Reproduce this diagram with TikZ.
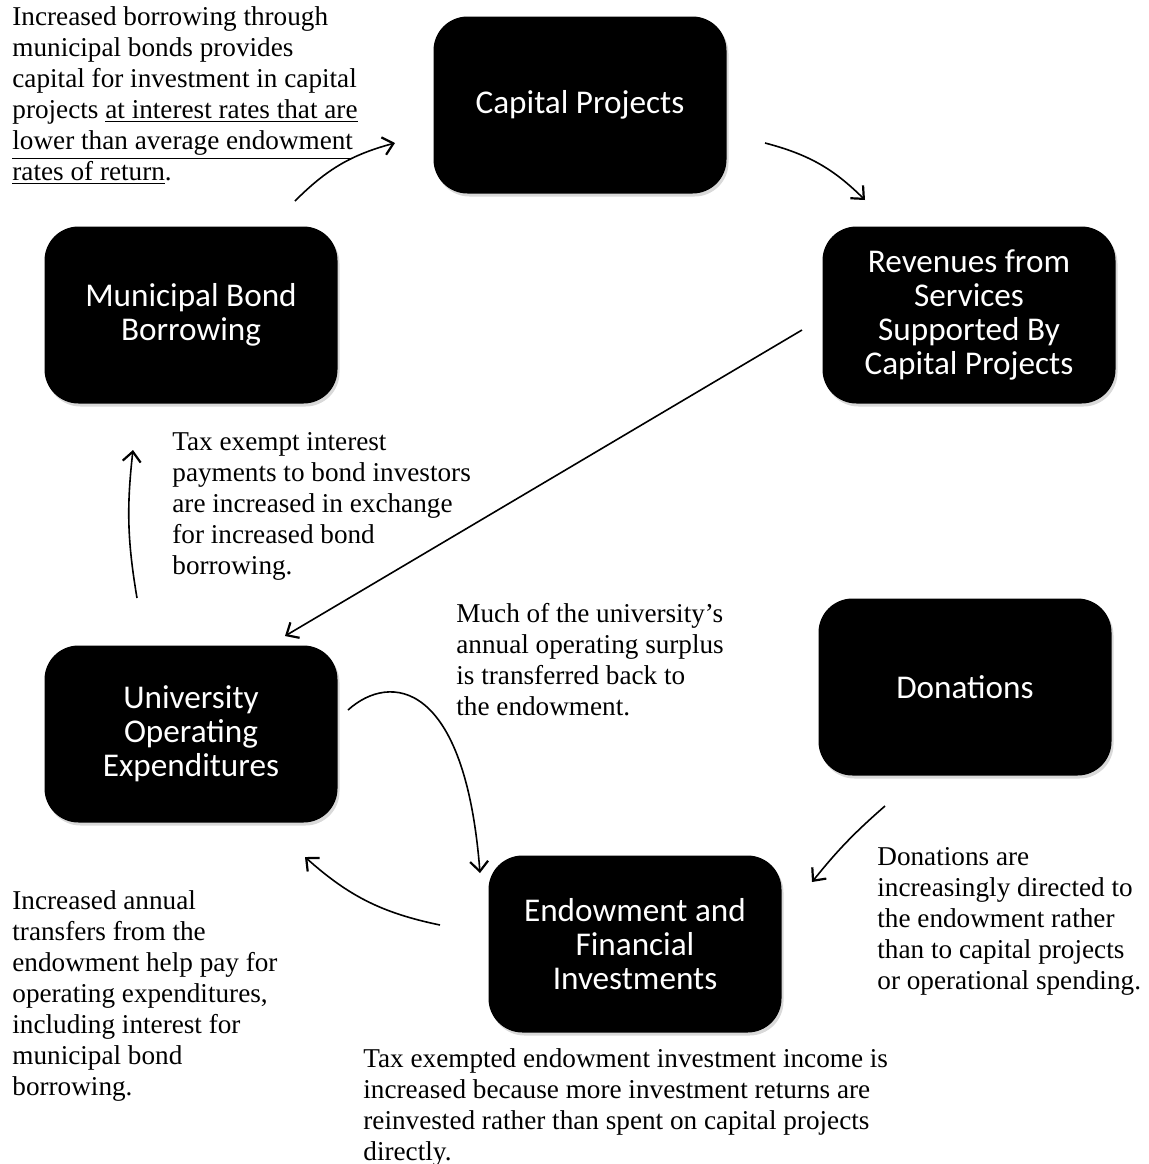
\documentclass[tikz,border=0pt]{standalone}
\usepackage{fontspec}
\setmainfont{Liberation Serif}
\newfontfamily\boxfont{Carlito}
\usetikzlibrary{arrows.meta,shadows}

\begin{document}
\begin{tikzpicture}[x=0.5pt,y=-0.5pt,
    flowbox/.style={fill=black, text=white, rounded corners=17pt,
        minimum width=146.5pt, minimum height=88.5pt, align=center,
        font=\boxfont\fontsize{16.6}{17}\selectfont,
        drop shadow={shadow xshift=1pt, shadow yshift=-1.5pt, opacity=0.3}},
    note/.style={anchor=north west, align=left, inner sep=0pt,
        font=\fontsize{13.6}{15.5}\selectfont},
    flow/.style={line width=0.8pt, -{Straight Barb[length=5pt,width=9pt,line width=1.1pt]}}]
\useasboundingbox (0,0) rectangle (1148,1164);

% the six boxes of the cycle
\node[flowbox] (capital) at (580,105) {Capital Projects};
\node[flowbox] (revenues) at (969,315) {Revenues from\\Services\\Supported By\\Capital Projects};
\node[flowbox] (bonds) at (191,315) {Municipal Bond\\Borrowing};
\node[flowbox] (operating) at (191,734) {University\\Operating\\Expenditures};
\node[flowbox] (donations) at (965,687) {Donations};
\node[flowbox] (endowment) at (635,944) {Endowment and\\Financial\\Investments};

% explanations
\node[note] (noteBonds) at (12,6) {Increased borrowing through\\municipal bonds provides\\capital for investment in capital\\projects \underline{at interest rates that are}\\\underline{lower than average endowment}\\\underline{rates of return}.};
\node[note] (noteInterest) at (172,432) {Tax exempt interest\\payments to bond investors\\are increased in exchange\\for increased bond\\borrowing.};
\node[note] (noteSurplus) at (456,603) {Much of the university's\\annual operating surplus\\is transferred back to\\the endowment.};
\node[note] (noteDonations) at (877,847) {Donations are\\increasingly directed to\\the endowment rather\\than to capital projects\\or operational spending.};
\node[note] (noteTransfers) at (12,890) {Increased annual\\transfers from the\\endowment help pay for\\operating expenditures,\\including interest for\\municipal bond\\borrowing.};
\node[note] (noteIncome) at (363,1048) {Tax exempted endowment investment income is\\increased because more investment returns are\\reinvested rather than spent on capital projects\\directly.};

% free ends of the arrows
\coordinate (bondsOut) at (295,201);
\coordinate (capitalIn) at (395,143);
\coordinate (capitalOut) at (765,143);
\coordinate (revenuesIn) at (865,200);
\coordinate (revenuesOut) at (802,330);
\coordinate (operatingIn) at (285,636);
\coordinate (operatingUp) at (137,598);
\coordinate (bondsIn) at (133,450);
\coordinate (surplusOut) at (348,710);
\coordinate (endowmentIn) at (480,873);
\coordinate (endowmentOut) at (440,925);
\coordinate (operatingBack) at (305,857);
\coordinate (donationsOut) at (885,806);
\coordinate (donationsIn) at (812,882);

\draw[flow] (bondsOut) to[bend left=15] (capitalIn);
\draw[flow] (capitalOut) to[bend left=15] (revenuesIn);
\draw[flow] (revenuesOut) -- (operatingIn);
\draw[flow] (operatingUp) to[bend left=8] (bondsIn);
\draw[flow] (surplusOut) .. controls (390,672) and (465,680) .. (endowmentIn);
\draw[flow] (endowmentOut) to[bend left=15] (operatingBack);
\draw[flow] (donationsOut) to[bend right=5] (donationsIn);
\end{tikzpicture}
\end{document}
